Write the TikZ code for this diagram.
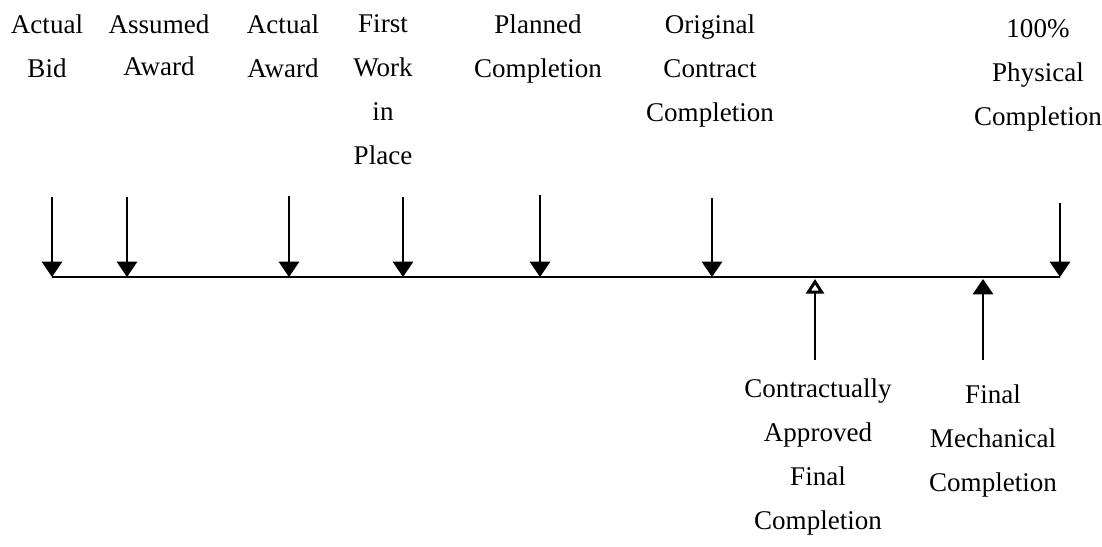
\documentclass[tikz,border=0pt]{standalone}
\usepackage{fontspec}
\setmainfont{Liberation Serif}
\usetikzlibrary{arrows.meta}

\begin{document}
\begin{tikzpicture}[x=0.444pt, y=-0.444pt,
  lbl/.style={anchor=north, align=center, inner sep=0pt,
    font=\fontsize{12}{19.6}\selectfont},
  down/.style={line width=0.9pt, -{Triangle[width=9pt,length=6.8pt]}},
  upopen/.style={line width=0.9pt, -{Triangle[open,width=8pt,length=6.5pt,line width=1.3pt]}},
  up/.style={line width=0.9pt, -{Triangle[width=9pt,length=6.8pt]}}]

\useasboundingbox (0,0) rectangle (1102,546);

% time line
\coordinate (S) at (52,277);
\coordinate (T) at (1060,277);
\draw [line width=1.1pt] (S)--(T);

% down arrows
\coordinate (A1) at (52,197);   \coordinate (A2) at (52,277);
\coordinate (B1) at (127,197);  \coordinate (B2) at (127,277);
\coordinate (C1) at (289,196);  \coordinate (C2) at (289,277);
\coordinate (D1) at (403,197);  \coordinate (D2) at (403,277);
\coordinate (E1) at (540,195);  \coordinate (E2) at (540,277);
\coordinate (F1) at (712,198);  \coordinate (F2) at (712,277);
\coordinate (G1) at (1060,203); \coordinate (G2) at (1060,277);

\draw [down] (A1)--(A2);
\draw [down] (B1)--(B2);
\draw [down] (C1)--(C2);
\draw [down] (D1)--(D2);
\draw [down] (E1)--(E2);
\draw [down] (F1)--(F2);
\draw [down] (G1)--(G2);

% up arrows
\coordinate (H1) at (815,360);  \coordinate (H2) at (815,279);
\coordinate (K1) at (983,360);  \coordinate (K2) at (983,279);

\draw [upopen] (H1)--(H2);
\draw [up] (K1)--(K2);

% labels
\node [lbl] (bid) at (47,14) {Actual\\Bid};
\node [lbl] (assumed) at (159,14) {Assumed\\[-1pt]Award};
\node [lbl] (award) at (283,14) {Actual\\Award};
\node [lbl] (work) at (383,14) {First\\Work\\in\\Place};
\node [lbl] (planned) at (538,14) {Planned\\Completion};
\node [lbl] (original) at (710,14) {Original\\Contract\\Completion};
\node [lbl] (physical) at (1038,19) {100\%\\Physical\\Completion};
\node [lbl] (approved) at (818,378) {Contractually\\Approved\\Final\\Completion};
\node [lbl] (mechanical) at (993,384) {Final\\Mechanical\\Completion};

\end{tikzpicture}
\end{document}
